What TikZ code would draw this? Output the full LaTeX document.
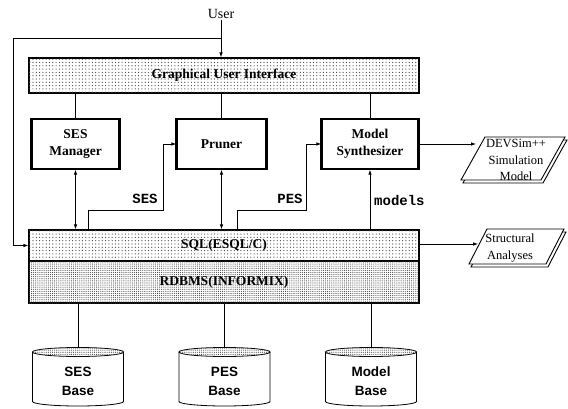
\documentclass[tikz,border=0pt]{standalone}
\usepackage{fontspec}
\setmainfont{Liberation Serif}
\newfontfamily\dbfont{Liberation Sans}
\newfontfamily\codefont{Liberation Mono}
\usetikzlibrary{arrows.meta,patterns.meta}

\tikzset{
  tip/.tip={Latex[length=5pt,width=3.6pt]},
  arr/.style={-tip, line width=0.8pt},
  darr/.style={tip-tip, line width=0.8pt},
  link/.style={line width=0.8pt},
  sparsedots/.style={pattern={Dots[distance=3.3pt,radius=0.6pt]}, pattern color=black!75},
  densedots/.style={pattern={Dots[distance=2.1pt,radius=0.55pt]}, pattern color=black!75},
  layer/.style={draw, fill=white, line width=1.2pt, minimum width=390, inner sep=0pt},
  layertext/.style={font=\fontsize{13.5}{16}\selectfont\bfseries},
  module/.style={draw, fill=white, line width=1.3pt, minimum height=50, inner sep=0pt,
    align=center, font=\fontsize{13.5}{16.5}\selectfont\bfseries},
  flowlabel/.style={font=\fontsize{14}{16}\selectfont\codefont\bfseries, inner sep=0pt},
  dbtext/.style={align=center, inner sep=0pt, font=\fontsize{13.5}{19}\selectfont\dbfont\bfseries},
  sheettext/.style={align=center, inner sep=0pt, font=\fontsize{12.5}{16.5}\selectfont},
  sheet/.style={draw, fill=white, line width=0.9pt, line join=miter},
}

% one database cylinder: name, centre x, label
\newcommand\database[3]{%
  \draw[link, fill=white] (#2-45.5,352) -- (#2-45.5,401.5)
    arc[start angle=180, end angle=0, x radius=45.5, y radius=4.5] -- (#2+45.5,352);
  \draw[link, fill=white] (#2,352) ellipse[x radius=45.5, y radius=4.5];
  \fill[densedots] (#2,352) ellipse[x radius=45.5, y radius=4.5];
  \node[dbtext] (#1) at (#2,381) {#3};
  \coordinate (#1top) at (#2,347.5);
}

% a stacked output sheet: top-left x, top y, bottom y, top width, slant
\newcommand\outsheet[5]{%
  \draw[sheet] (#1+2,#2+3) -- (#1+#4+2,#2+3) -- (#1+#4-#5+2,#3+3) -- (#1-#5+2,#3+3) -- cycle;
  \draw[sheet] (#1,#2) -- (#1+#4,#2) -- (#1+#4-#5,#3) -- (#1-#5,#3) -- cycle;
}

\begin{document}
\begin{tikzpicture}[x=1pt, y=-1pt]
  \useasboundingbox (0,0) rectangle (568,409);

  % user and the three layers
  \node[font=\fontsize{14}{16}\selectfont, inner sep=1pt] (user) at (221,14) {User};

  \node[layer, minimum height=35, postaction={sparsedots}] (gui) at (224,75.5) {};
  \node[layertext] at (gui) {Graphical User Interface};

  \node[layer, minimum height=31, postaction={sparsedots}] (sql) at (224,245.5) {};
  \node[layertext] at (sql) {SQL(ESQL/C)};

  \node[layer, minimum height=42, postaction={densedots}] (rdbms) at (224,282) {};
  \node[layertext] at (rdbms) {RDBMS(INFORMIX)};

  % tools
  \node[module, minimum width=87] (sesm) at (75.5,144) {SES\\Manager};
  \node[module, minimum width=89] (pruner) at (221.5,144) {Pruner};
  \node[module, minimum width=96] (msyn) at (370,144) {Model\\Synthesizer};
  \foreach \n in {sesm,pruner,msyn}
    \draw[line width=3.2pt] (\n.north west) -- (\n.south west)
                            (\n.north east) -- (\n.south east);

  % user entry and loop to the database interface
  \coordinate (ul) at (13,38);
  \draw[arr] (user.south) -- (gui.north -| user.south);
  \draw[arr] (ul -| user.south) -- (ul) |- (sql.west);

  % GUI to tools
  \foreach \n in {sesm,pruner,msyn}
    \draw[link] (gui.south -| \n) -- (\n.north);

  % tools to SQL
  \draw[darr] (sesm.south) -- (sql.north -| sesm.south);
  \draw[darr] (pruner.south) -- (sql.north -| pruner.south);
  \draw[arr] (sql.north -| msyn.south) -- (msyn.south);

  \coordinate (sesA) at (88,210);
  \coordinate (sesB) at (163,210);
  \draw[arr] (sql.north -| sesA) -- (sesA) -- (sesB) |- (pruner.west);
  \node[flowlabel] at (145,199) {SES};

  \coordinate (pesA) at (237,210);
  \coordinate (pesB) at (306,210);
  \draw[arr] (sql.north -| pesA) -- (pesA) -- (pesB) |- (msyn.west);
  \node[flowlabel] at (290,199) {PES};

  \node[flowlabel, anchor=west] at (374,200) {models};

  % databases
  \database{sesb}{78}{SES\\Base}
  \database{pesb}{224.5}{PES\\Base}
  \database{modb}{371}{Model\\Base}
  \foreach \n in {sesb,pesb,modb}
    \draw[link] (rdbms.south -| \n top) -- (\n top);

  % output documents
  \outsheet{485}{137}{180}{80}{24}
  \node[sheettext] (dev) at (516,160) {DEVSim++\\Simulation\\Model};
  \coordinate (devin) at (476,144);
  \draw[arr] (msyn.east) -- (devin);

  \outsheet{487}{229}{264}{77}{18}
  \node[sheettext] (sta) at (510,248) {Structural\\Analyses};
  \coordinate (stain) at (478,244);
  \draw[arr] (sql.east |- stain) -- (stain);
\end{tikzpicture}
\end{document}
